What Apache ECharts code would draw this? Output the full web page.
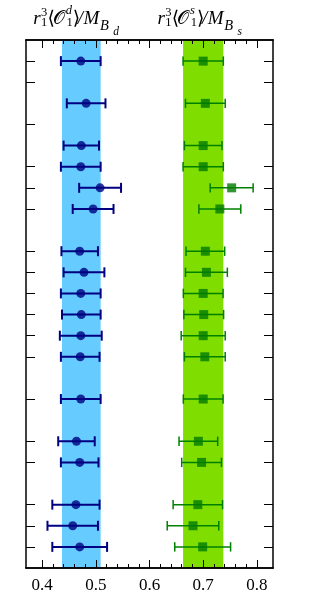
<!DOCTYPE html>
<html>
<head>
<meta charset="utf-8">
<script src="https://cdn.jsdelivr.net/npm/echarts@6/dist/echarts.min.js"></script>
<style>html,body{margin:0;padding:0;background:#fff}#c{width:316px;height:601px}</style>
</head>
<body>
<div id="c"></div>
<script>
// ---- data ----
const rows = [0, 2, 4, 5, 6, 7, 9, 10, 11, 12, 13, 14, 16, 18, 19, 21, 22, 23];
const dVal = [0.472, 0.482, 0.473, 0.472, 0.508, 0.495, 0.470, 0.478, 0.472, 0.473, 0.472, 0.471, 0.472, 0.464, 0.470, 0.463, 0.457, 0.470];
const dErr = [0.037, 0.036, 0.033, 0.037, 0.039, 0.038, 0.034, 0.038, 0.037, 0.036, 0.039, 0.036, 0.037, 0.034, 0.035, 0.044, 0.047, 0.051];
const sVal = [0.700, 0.704, 0.700, 0.700, 0.753, 0.731, 0.704, 0.706, 0.700, 0.701, 0.700, 0.703, 0.700, 0.691, 0.697, 0.690, 0.681, 0.699];
const sErr = [0.0375, 0.037, 0.035, 0.0375, 0.040, 0.039, 0.036, 0.039, 0.037, 0.037, 0.041, 0.038, 0.037, 0.036, 0.037, 0.046, 0.048, 0.052];
const dBand = [0.437, 0.509];
const sBand = [0.6625, 0.7375];
const yTicks = [0, 1, 3, 5, 6, 7, 9, 10, 11, 12, 13, 14, 16, 18, 19, 21, 22, 23];
const xMajor = [0.4, 0.5, 0.6, 0.7, 0.8];
const xMinor = [0.42, 0.44, 0.46, 0.48, 0.52, 0.54, 0.56, 0.58, 0.62, 0.64, 0.66, 0.68, 0.72, 0.74, 0.76, 0.78];
const xRange = [0.37, 0.83];
const yRange = [-1, 24];

// ---- chart ----
const chart = echarts.init(document.getElementById('c'), null, {renderer: 'canvas'});
const SERIF = '"Liberation Serif", "DejaVu Serif", serif';

function xAx(pos, ticks, len, labels) {
  return {
    type: 'value', position: pos, min: xRange[0], max: xRange[1], z: 10,
    axisLine: {show: true, onZero: false, lineStyle: {color: '#000', width: 1.5}},
    axisTick: {show: true, inside: true, length: len, customValues: ticks, lineStyle: {color: '#000', width: 1}},
    axisLabel: labels ? {show: true, customValues: ticks, margin: 9, color: '#000', fontFamily: SERIF, fontSize: 17,
      formatter: v => v.toFixed(1)} : {show: false},
    splitLine: {show: false}, minorTick: {show: false}
  };
}
function yAx(pos) {
  return {
    type: 'value', position: pos, min: yRange[0], max: yRange[1], inverse: true, z: 10,
    axisLine: {show: true, onZero: false, lineStyle: {color: '#000', width: 1.5}},
    axisTick: {show: true, inside: true, length: 9, customValues: yTicks, lineStyle: {color: '#000', width: 1}},
    axisLabel: {show: false}, splitLine: {show: false}
  };
}

function errSeries(vals, errs, color, lw, cap, z) {
  return {
    type: 'custom', z: z, silent: true,
    data: rows.map((r, i) => [vals[i], r, errs[i]]),
    renderItem: function (params, api) {
      const c = api.value(0), y = api.value(1), e = api.value(2);
      const a = api.coord([c - e, y]), b = api.coord([c + e, y]);
      const st = {stroke: color, lineWidth: lw};
      return {type: 'group', children: [
        {type: 'line', shape: {x1: a[0], y1: a[1], x2: b[0], y2: b[1]}, style: st},
        {type: 'line', shape: {x1: a[0], y1: a[1] - cap, x2: a[0], y2: a[1] + cap}, style: st},
        {type: 'line', shape: {x1: b[0], y1: b[1] - cap, x2: b[0], y2: b[1] + cap}, style: st}
      ]};
    }
  };
}

function bandSeries(band, color) {
  return {
    type: 'scatter', data: [], z: 1, silent: true,
    markArea: {silent: true, itemStyle: {color: color, opacity: 1, borderWidth: 0},
      data: [[{xAxis: band[0]}, {xAxis: band[1]}]]}
  };
}

function titlePieces(dx, sup) {
  const mainY = 19;
  const P = [
    ['r', 33.3, mainY, 19, 'italic'],
    ['3', 41, 13, 12.5, 'normal'],
    ['1', 41, 22.5, 12.5, 'normal'],
    ['\u27E8', 47.5, mainY, 19, 'normal'],
    ['\uD835\uDCAA', 52.7, mainY, 19, 'normal'],
    [sup, 65.7, 10.5, 12.5, 'italic'],
    ['1', 66.5, 22.5, 12.5, 'normal'],
    ['\u27E9', 72.7, mainY, 19, 'normal'],
    ['/', 77.7, mainY, 19, 'italic'],
    ['M', 83.5, mainY, 19, 'italic'],
    ['B', 100, 25.7, 14.5, 'italic'],
    [sup, 113.3, 31.8, 11.5, 'italic']
  ];
  return P.map(p => ({
    type: 'text', x: p[1] + dx, y: p[2], silent: true,
    style: {text: p[0], fill: '#000', fontFamily: SERIF, fontSize: p[3], fontStyle: p[4], align: 'left', verticalAlign: 'middle'}
  }));
}

chart.setOption({
  animation: false,
  backgroundColor: '#fff',
  grid: {left: 26, right: 43, top: 40, bottom: 33, containLabel: false},
  xAxis: [xAx('bottom', xMajor, 8, true), xAx('bottom', xMinor, 4, false), xAx('top', xMajor, 8, false), xAx('top', xMinor, 4, false)],
  yAxis: [yAx('left'), yAx('right')],
  graphic: titlePieces(0, 'd').concat(titlePieces(124.2, 's')),
  series: [
    bandSeries(dBand, '#66ccff'),
    bandSeries(sBand, '#80dd00'),
    errSeries(dVal, dErr, '#000080', 2, 5, 3),
    errSeries(sVal, sErr, '#008000', 1.5, 4.7, 3),
    {type: 'scatter', z: 4, silent: true, symbol: 'circle', symbolSize: 9, itemStyle: {color: '#000080'},
      data: rows.map((r, i) => [dVal[i], r])},
    {type: 'scatter', z: 4, silent: true, symbol: 'rect', symbolSize: 9, itemStyle: {color: '#007a00'},
      data: rows.map((r, i) => [sVal[i], r])}
  ]
});
</script>
</body>
</html>
